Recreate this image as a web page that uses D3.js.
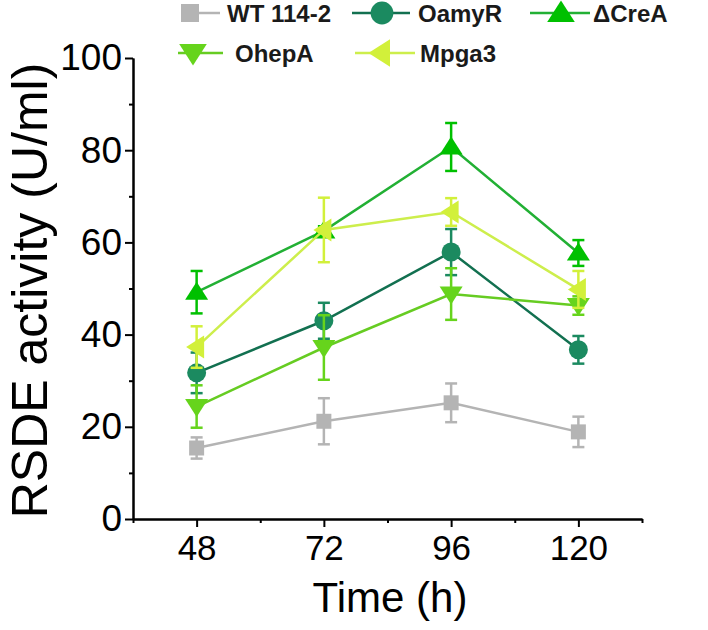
<!DOCTYPE html>
<html>
<head>
<meta charset="utf-8">
<script src="https://cdn.jsdelivr.net/npm/d3@7"></script>
<style>
  body { margin: 0; background: #fff; }
  svg { font-family: Arial, 'Liberation Sans', sans-serif; }
</style>
</head>
<body>
<svg id="chart" width="708" height="630"></svg>
<script>
// Data
const times = [48, 72, 96, 120]
const seriesNames = ['WT 114-2', 'OamyR', '\u0394CreA', 'OhepA', 'Mpga3']
const wtMean = [15.4, 21.2, 25.2, 18.9]
const wtErr = [2.3, 5.0, 4.2, 3.3]
const oamyMean = [31.7, 43.0, 57.9, 36.7]
const oamyErr = [4.4, 3.9, 5.0, 3.0]
const creaMean = [49.2, 62.5, 80.7, 57.7]
const creaErr = [4.6, 1.0, 5.2, 2.8]
const ohepMean = [24.4, 37.2, 48.8, 46.3]
const ohepErr = [4.6, 7.0, 5.6, 2.0]
const mpgaMean = [37.3, 62.7, 66.6, 49.8]
const mpgaErr = [4.5, 7.0, 3.0, 4.0]
const yTicks = [0, 20, 40, 60, 80, 100]
const yMinor = [10, 30, 50, 70, 90]
const xMinor = [36, 60, 84, 108, 132]

const styles = [
  { marker: 'square', fill: '#b4b4b4', line: '#b4b4b4' },
  { marker: 'circle', fill: '#1b8a60', line: '#127050' },
  { marker: 'up', fill: '#00c000', line: '#22b034' },
  { marker: 'down', fill: '#66d41c', line: '#66cc22' },
  { marker: 'left', fill: '#d2f03a', line: '#cdee4c' }
]

const means = [wtMean, oamyMean, creaMean, ohepMean, mpgaMean]
const errs = [wtErr, oamyErr, creaErr, ohepErr, mpgaErr]

const svg = d3.select('#chart')

const plot = { left: 133, right: 642, top: 58, bottom: 519 }

let x = d3.scaleLinear()
    .domain([36, 132])
    .range([plot.left, plot.right])

let y = d3.scaleLinear()
    .domain([0, 100])
    .range([plot.bottom, plot.top])

// Marker path centred on 0,0
function markerPath (kind, s) {
  let p = d3.path()
  let h = s / 2
  if (kind === 'square') {
    p.rect(-h, -h, s, s)
  } else if (kind === 'circle') {
    p.arc(0, 0, h, 0, 2 * Math.PI)
  } else if (kind === 'up') {
    p.moveTo(0, -h * 1.05); p.lineTo(h * 1.15, h * 0.75); p.lineTo(-h * 1.15, h * 0.75); p.closePath()
  } else if (kind === 'down') {
    p.moveTo(0, h * 1.05); p.lineTo(h * 1.15, -h * 0.75); p.lineTo(-h * 1.15, -h * 0.75); p.closePath()
  } else {
    p.moveTo(-h * 1.05, 0); p.lineTo(h * 0.75, -h * 1.15); p.lineTo(h * 0.75, h * 1.15); p.closePath()
  }
  return p.toString()
}

const markerSize = { square: 15, circle: 19, up: 20, down: 20, left: 20 }

// Axes
let xAxis = d3.axisBottom(x).tickValues(times).tickSize(8).tickSizeOuter(0).tickPadding(8)
let xAxisMinor = d3.axisBottom(x).tickValues(xMinor).tickSize(4).tickFormat('').tickSizeOuter(0)
let yAxis = d3.axisLeft(y).tickValues(yTicks).tickSize(8).tickSizeOuter(0).tickPadding(3)
let yAxisMinor = d3.axisLeft(y).tickValues(yMinor).tickSize(4).tickFormat('').tickSizeOuter(0)

function styleAxis (g, fontSize) {
  g.selectAll('path, line').attr('stroke', '#000').attr('stroke-width', 2)
  g.selectAll('text').attr('fill', '#000').style('font-size', fontSize + 'px')
}

svg.append('g').attr('transform', 'translate(0,' + plot.bottom + ')').call(xAxisMinor).call(styleAxis, 35)
svg.append('g').attr('transform', 'translate(0,' + plot.bottom + ')').call(xAxis).call(styleAxis, 35)
svg.append('g').attr('transform', 'translate(' + plot.left + ',0)').call(yAxisMinor).call(styleAxis, 37)
svg.append('g').attr('transform', 'translate(' + plot.left + ',0)').call(yAxis).call(styleAxis, 37)

// Axis titles
svg.append('text')
  .attr('x', 390)
  .attr('y', 612)
  .attr('text-anchor', 'middle')
  .style('font-size', '42px')
  .text('Time (h)')

svg.append('text')
  .attr('transform', 'translate(47,' + ((plot.top + plot.bottom) / 2 + 2) + ') rotate(-90)')
  .attr('text-anchor', 'middle')
  .style('font-size', '50px')
  .text('RSDE activity (U/ml)')

// Series
let line = d3.line()
    .x(d => x(d.t))
    .y(d => y(d.v))

means.forEach((vals, i) => {
  let st = styles[i]
  let pts = times.map((t, j) => ({ t: t, v: vals[j], e: errs[i][j] }))
  let g = svg.append('g').attr('class', 'series')

  g.append('path')
    .datum(pts)
    .attr('d', line)
    .attr('fill', 'none')
    .attr('stroke', st.line)
    .attr('stroke-width', 2.5)

  let eb = g.selectAll('.err').data(pts).enter().append('g')
  eb.append('line')
    .attr('x1', d => x(d.t)).attr('x2', d => x(d.t))
    .attr('y1', d => y(d.v + d.e)).attr('y2', d => y(d.v - d.e))
  eb.append('line')
    .attr('x1', d => x(d.t) - 6).attr('x2', d => x(d.t) + 6)
    .attr('y1', d => y(d.v + d.e)).attr('y2', d => y(d.v + d.e))
  eb.append('line')
    .attr('x1', d => x(d.t) - 6).attr('x2', d => x(d.t) + 6)
    .attr('y1', d => y(d.v - d.e)).attr('y2', d => y(d.v - d.e))
  eb.selectAll('line').attr('stroke', st.fill).attr('stroke-width', 2.5)

  g.selectAll('.mk').data(pts).enter().append('path')
    .attr('transform', d => 'translate(' + x(d.t) + ',' + y(d.v) + ')')
    .attr('d', markerPath(st.marker, markerSize[st.marker]))
    .attr('fill', st.fill)
})

// Legend
const legendPos = [
  { x: 190, y: 13, tx: 227, lx1: 190, lx2: 220 },
  { x: 382, y: 13, tx: 418, lx1: 352, lx2: 410 },
  { x: 561, y: 13, tx: 593, lx1: 530, lx2: 590 },
  { x: 193, y: 53, tx: 235, lx1: 178, lx2: 223 },
  { x: 381, y: 53, tx: 420, lx1: 355, lx2: 415 }
]

seriesNames.forEach((name, i) => {
  let st = styles[i]
  let p = legendPos[i]
  let g = svg.append('g').attr('class', 'legend-item')
  g.append('line')
    .attr('x1', p.lx1).attr('x2', p.lx2)
    .attr('y1', p.y).attr('y2', p.y)
    .attr('stroke', st.line)
    .attr('stroke-width', 2.5)
  g.append('path')
    .attr('transform', 'translate(' + p.x + ',' + p.y + ')')
    .attr('d', markerPath(st.marker, markerSize[st.marker] * 1.2))
    .attr('fill', st.fill)
  g.append('text')
    .attr('x', p.tx)
    .attr('y', p.y + 9)
    .style('font-size', '24px')
    .style('font-weight', 'bold')
    .attr('fill', '#1a1a1a')
    .text(name)
})
</script>
</body>
</html>
